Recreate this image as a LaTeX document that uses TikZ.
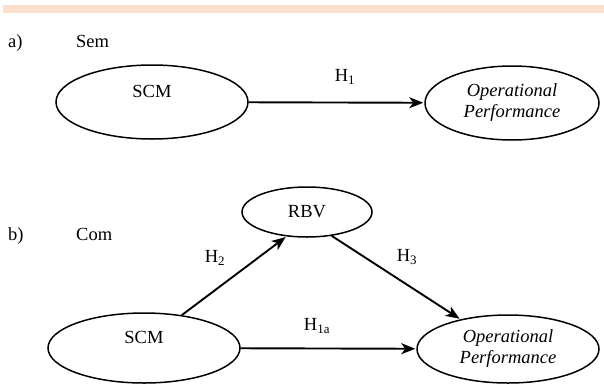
\documentclass[tikz,border=0pt]{standalone}
\usepackage{fontspec}
\setmainfont{Liberation Serif}
\usetikzlibrary{shapes.geometric,arrows.meta}

\definecolor{bandpeach}{RGB}{251,224,208}

\begin{document}
\begin{tikzpicture}[x=1pt,y=-1pt,
    construct/.style={ellipse, draw, line width=1.5pt, inner sep=0pt, align=center,
        font=\fontsize{18.5}{21}\selectfont},
    hyp/.style={-{Stealth[length=14pt,width=11pt,inset=4pt]}, line width=1.9pt, shorten >=1pt},
    hyplabel/.style={font=\fontsize{18.5}{21}\selectfont},
    panel/.style={font=\fontsize{18.5}{21}\selectfont, anchor=base west, inner sep=0pt}]
    % Frame of the picture
    \useasboundingbox (0,0) rectangle (604,386);
    \fill[bandpeach] (3,5) rectangle (604,13);

    % a) Sem
    \node[panel] (tagA) at (8,47) {a)};
    \node[panel] (nameA) at (76,47) {Sem};
    \node[construct, minimum width=192, minimum height=74] (scmA) at (152,102) {SCM\\[1pt]\mbox{}};
    \node[construct, minimum width=174, minimum height=74] (opA) at (512,103) {\itshape Operational\\\itshape Performance};
    \draw[hyp] (scmA) -- (opA);
    \node[hyplabel] (hA) at (345,77) {H\textsubscript{1}};

    % b) Com
    \node[panel] (tagB) at (8,240) {b)};
    \node[panel] (nameB) at (76,240) {Com};
    \node[construct, minimum width=130, minimum height=50] (rbv) at (307,212) {RBV};
    \node[construct, minimum width=192, minimum height=70] (scmB) at (144,348) {SCM\\[1pt]\mbox{}};
    \node[construct, minimum width=182, minimum height=68] (opB) at (508,349) {\itshape Operational\\\itshape Performance};
    \draw[hyp] (scmB.41) -- (rbv.230);
    \draw[hyp] (rbv.316) -- (opB.148);
    \draw[hyp] (scmB) -- (opB);
    \node[hyplabel] (hB) at (215,258) {H\textsubscript{2}};
    \node[hyplabel] (hC) at (407,257) {H\textsubscript{3}};
    \node[hyplabel] (hD) at (317,326) {H\textsubscript{1a}};
\end{tikzpicture}
\end{document}
